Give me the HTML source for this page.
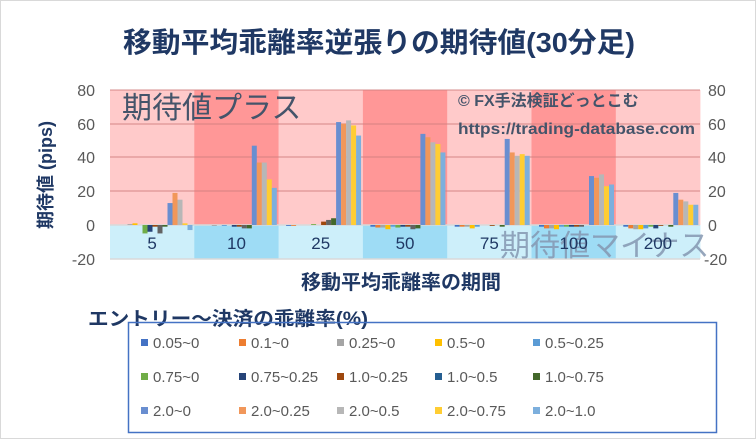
<!DOCTYPE html>
<html><head><meta charset="utf-8"><style>
body{margin:0;background:#fff}
svg{display:block;font-family:"Liberation Sans","Noto Sans CJK JP",sans-serif}
</style></head><body>
<svg id="c" width="756" height="439" viewBox="0 0 756 439" xmlns="http://www.w3.org/2000/svg">
<rect x="0.5" y="0.5" width="755" height="438" fill="#fff" stroke="#d9d9d9"/>
<text x="379" y="52" text-anchor="middle" font-size="28" font-weight="bold" fill="#1f3864" textLength="512" lengthAdjust="spacingAndGlyphs">移動平均乖離率逆張りの期待値(30分足)</text>
<g id="bg"></g>
<g id="bars"></g>
<g font-size="16" fill="#595959" text-anchor="end">
<text x="95" y="96">80</text><text x="95" y="130">60</text><text x="95" y="163">40</text><text x="95" y="197">20</text><text x="95" y="231">0</text><text x="95" y="265">-20</text>
</g>
<g font-size="16" fill="#595959">
<text x="708" y="96">80</text><text x="708" y="130">60</text><text x="708" y="163">40</text><text x="708" y="197">20</text><text x="708" y="231">0</text><text x="704" y="265">-20</text>
</g>
<text transform="translate(52,175) rotate(-90)" text-anchor="middle" font-size="18" font-weight="bold" fill="#1f3864">期待値 (pips)</text>
<text x="122" y="118" font-size="30" fill="#44546a">期待値プラス</text>
<text x="458" y="106" font-size="16" font-weight="bold" fill="#44546a">© FX手法検証どっとこむ</text>
<text x="458" y="134" font-size="16" font-weight="bold" fill="#44546a" textLength="237" lengthAdjust="spacingAndGlyphs">https://trading-database.com</text>
<text x="500" y="256" font-size="30" fill="#8496b0" fill-opacity="0.85">期待値マイナス</text>
<g id="cat" font-size="17" fill="#1f3864" text-anchor="middle"></g>
<text x="401" y="289" text-anchor="middle" font-size="20" font-weight="bold" fill="#1f3864">移動平均乖離率の期間</text>
<text x="88" y="325" font-size="19" font-weight="bold" fill="#1f3864" textLength="280" lengthAdjust="spacingAndGlyphs">エントリー～決済の乖離率(%)</text>
<rect x="128.5" y="322.5" width="588" height="110" fill="none" stroke="#4472c4" stroke-width="1.5"/>
<g id="leg" font-size="15" fill="#595959"></g>
</svg>
<script>
var NS="http://www.w3.org/2000/svg";
function el(p,t,a,tx){var e=document.createElementNS(NS,t);for(var k in a)e.setAttribute(k,a[k]);if(tx)e.textContent=tx;document.getElementById(p).appendChild(e);}
var x0=110,gw=84.3,y0=225,s=33.75/20;
for(var g=0;g<7;g++){var x=x0+g*gw;
el("bg","rect",{x:x,y:90,width:gw+0.3,height:135,fill:g%2?"#ff9797":"#ffcaca"});
el("bg","rect",{x:x,y:225,width:gw+0.3,height:34,fill:g%2?"#9edcf5":"#cdeffa"});}
[90,124,157,191].forEach(function(y){el("bg","line",{x1:110,x2:700,y1:y,y2:y,stroke:"#d08080","stroke-width":1.5,"stroke-opacity":0.6});});
el("bg","line",{x1:110,x2:700,y1:225,y2:225,stroke:"#d9d9d9","stroke-width":1.5});
el("bg","line",{x1:110,x2:700,y1:259,y2:259,stroke:"#d9d9d9","stroke-width":1.5});
var cols=["#4472c4","#ed7d31","#a5a5a5","#ffc000","#5b9bd5","#70ad47","#264478","#9e480e","#636363","#43682b","#698ed0","#f1975a","#b7b7b7","#ffcd33","#7cafdd"];
var d=[
[0,0,0.5,1,0,-5,-4,-1,-5,-1,13,19,15,1,-3],
[0,0,-0.5,0,-0.5,0,-1,-1,-2,-2,47,37,37,27,22],
[-0.5,-0.5,0,0,0,0.5,0,2,-2,0,61,60,62,59,53],
[-1,-1.5,-1.5,-2.5,-1,-1.5,-1,-1,-2.5,-2,54,52,49,48,43],
[-1,-1,-1,-2,-1,0,0,-0.5,0,-1,51,43,41,42,41],
[-1,-2,-2,-2.5,-1,-1,-1,-1,-1,0,29,28,30,23,24],
[-1,-2,-2.5,-2.5,-2,-1,-2,-0.5,0,-1,19,15,14,12,12]];
d[2][8]=3;d[2][9]=4;
for(var g=0;g<7;g++)for(var i=0;i<15;i++){var v=d[g][i];if(!v)continue;var h=Math.abs(v)*s;
el("bars","rect",{x:x0+g*gw+7.5+i*5,y:v>0?y0-h:y0,width:5,height:h,fill:cols[i]});}
["5","10","25","50","75","100","200"].forEach(function(t,g){el("cat","text",{x:x0+g*gw+gw/2,y:249},t);});
var L=["0.05~0","0.1~0","0.25~0","0.5~0","0.5~0.25","0.75~0","0.75~0.25","1.0~0.25","1.0~0.5","1.0~0.75","2.0~0","2.0~0.25","2.0~0.5","2.0~0.75","2.0~1.0"];
var lc=["#4472c4","#ed7d31","#a5a5a5","#ffc000","#5b9bd5","#70ad47","#264478","#9e480e","#255e91","#43682b","#698ed0","#f1975a","#b7b7b7","#ffcd33","#7cafdd"];
L.forEach(function(t,i){var c=i%5,r=Math.floor(i/5);var x=141+c*98,y=343+r*34;
el("leg","rect",{x:x,y:y-4,width:7,height:7,fill:lc[i]});el("leg","text",{x:x+12,y:y+5},t);});
</script>
</body></html>
